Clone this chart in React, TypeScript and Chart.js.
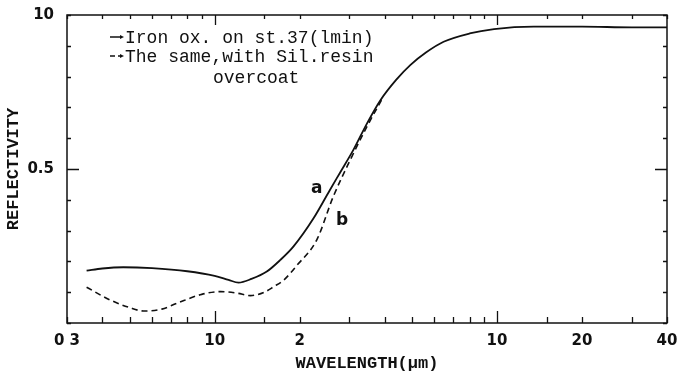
import React, { useEffect, useRef } from 'react';
import { Chart, registerables } from 'chart.js';

Chart.register(...registerables);

// Curve a: iron oxide on st.37 (solid)
const curveAX = [0.352, 0.4, 0.475, 0.6, 0.8, 1.0, 1.12, 1.215, 1.35, 1.53, 1.71, 1.9, 2.24, 2.56, 2.78, 3.1, 3.45, 3.87, 4.4, 4.94, 5.6, 6.47, 8.0, 9.76, 13.5, 20, 30, 40];
const curveAY = [0.170, 0.177, 0.181, 0.178, 0.168, 0.153, 0.140, 0.131, 0.143, 0.167, 0.205, 0.248, 0.340, 0.432, 0.488, 0.562, 0.645, 0.724, 0.790, 0.838, 0.878, 0.913, 0.940, 0.954, 0.962, 0.962, 0.960, 0.960];

// Curve b: same, with Sil. resin overcoat (dashed)
const curveBX = [0.352, 0.426, 0.5, 0.56, 0.65, 0.735, 0.9, 1.05, 1.2, 1.34, 1.5, 1.62, 1.76, 1.96, 2.3, 2.63, 3.02, 3.45, 3.9];
const curveBY = [0.116, 0.075, 0.050, 0.039, 0.045, 0.064, 0.093, 0.102, 0.097, 0.089, 0.100, 0.118, 0.140, 0.188, 0.270, 0.410, 0.529, 0.635, 0.724];

// Axis ticks
const xTickValues = [0.3, 0.4, 0.5, 0.6, 0.7, 0.8, 0.9, 1, 1.5, 2, 3, 4, 5, 6, 7, 8, 9, 10, 15, 20, 30, 40];
const xMajorValues = [1, 10];
const xLabelValues = [0.3, 1, 2, 10, 20, 40];
const xLabelTexts = ['0 3', '10', '2', '10', '20', '40'];

const yTickValues = [0, 0.1, 0.2, 0.3, 0.4, 0.5, 0.6, 0.7, 0.8, 0.9, 1.0];
const yMajorValues = [0.5];
const yLabelValues = [0.5, 1.0];
const yLabelTexts = ['0.5', '10'];

// Curve annotations
const curveLabelTexts = ['a', 'b'];
const curveLabelX = [2.3, 2.83];
const curveLabelY = [0.438, 0.334];

// Legend
const legendTexts = ['Iron ox. on st.37(lmin)', 'The same,with Sil.resin'];
const legendExtra = 'overcoat';

const MONO = '"Liberation Mono", "DejaVu Sans Mono", monospace';
const SANS = '"DejaVu Sans", "Liberation Sans", sans-serif';
const INK = '#111';

const near = (a: number, b: number) => Math.abs(a - b) < 1e-9;

const framePlugin = {
  id: 'frameTicks',
  afterDatasetsDraw(chart: any) {
    const { ctx, chartArea: ca, scales } = chart;
    const xs = scales.x;
    const ys = scales.y;
    ctx.save();
    ctx.strokeStyle = INK;
    ctx.lineWidth = 1.5;
    ctx.strokeRect(ca.left, ca.top, ca.right - ca.left, ca.bottom - ca.top);

    ctx.lineWidth = 1.3;
    ctx.beginPath();
    xTickValues.forEach((v) => {
      const px = Math.round(xs.getPixelForValue(v)) + 0.5;
      const major = xMajorValues.some((m) => near(m, v));
      const lb = major ? 12 : 6;
      const lt = major ? 10 : 4;
      ctx.moveTo(px, ca.bottom);
      ctx.lineTo(px, ca.bottom - lb);
      ctx.moveTo(px, ca.top);
      ctx.lineTo(px, ca.top + lt);
    });
    yTickValues.forEach((v) => {
      const py = Math.round(ys.getPixelForValue(v)) + 0.5;
      const major = yMajorValues.some((m) => near(m, v));
      const l = major ? 12 : 4;
      ctx.moveTo(ca.left, py);
      ctx.lineTo(ca.left + l, py);
      ctx.moveTo(ca.right, py);
      ctx.lineTo(ca.right - l, py);
    });
    ctx.stroke();

    // curve labels a / b
    ctx.fillStyle = INK;
    ctx.font = 'bold 17px ' + SANS;
    ctx.textAlign = 'center';
    ctx.textBaseline = 'middle';
    curveLabelTexts.forEach((t, i) => {
      ctx.fillText(t, xs.getPixelForValue(curveLabelX[i]), ys.getPixelForValue(curveLabelY[i]));
    });

    // legend
    const lx0 = 110;
    const lx1 = 124;
    const rows = [37, 56];
    ctx.lineWidth = 1.5;
    ctx.beginPath();
    ctx.moveTo(lx0, rows[0]);
    ctx.lineTo(lx1 - 3, rows[0]);
    ctx.stroke();
    ctx.beginPath();
    ctx.moveTo(lx0, rows[1]);
    ctx.lineTo(lx0 + 5, rows[1]);
    ctx.moveTo(lx0 + 8, rows[1]);
    ctx.lineTo(lx1 - 3, rows[1]);
    ctx.stroke();
    rows.forEach((ry) => {
      ctx.beginPath();
      ctx.moveTo(lx1, ry);
      ctx.lineTo(lx1 - 4, ry - 2);
      ctx.lineTo(lx1 - 4, ry + 2);
      ctx.closePath();
      ctx.fill();
    });

    ctx.font = '18px ' + MONO;
    ctx.textAlign = 'left';
    ctx.textBaseline = 'alphabetic';
    ctx.fillText(legendTexts[0], 125, 43);
    ctx.fillText(legendTexts[1], 125, 62);
    ctx.fillText(legendExtra, 213, 83);
    ctx.restore();
  },
};

export default function App() {
  const canvasRef = useRef<HTMLCanvasElement | null>(null);

  useEffect(() => {
    const canvas = canvasRef.current;
    if (!canvas) return;
    const chart = new Chart(canvas, {
      type: 'line',
      data: {
        datasets: [
          {
            label: 'a',
            data: curveAX.map((x, i) => ({ x, y: curveAY[i] })),
            borderColor: INK,
            borderWidth: 1.8,
            pointRadius: 0,
            fill: false,
            cubicInterpolationMode: 'monotone',
          },
          {
            label: 'b',
            data: curveBX.map((x, i) => ({ x, y: curveBY[i] })),
            borderColor: INK,
            borderWidth: 1.6,
            borderDash: [6, 4],
            pointRadius: 0,
            fill: false,
            cubicInterpolationMode: 'monotone',
          },
        ],
      },
      options: {
        animation: false,
        responsive: false,
        devicePixelRatio: 1,
        layout: { padding: { top: 15, right: 11, left: 0, bottom: 0 } },
        plugins: {
          legend: { display: false },
          tooltip: { enabled: false },
          title: { display: false },
        },
        scales: {
          x: {
            type: 'logarithmic',
            min: 0.3,
            max: 40,
            afterBuildTicks: (scale: any) => {
              scale.ticks = xTickValues.map((v) => ({ value: v }));
            },
            afterFit: (scale: any) => {
              scale.height = 52;
              scale.paddingLeft = 0;
              scale.paddingRight = 0;
            },
            grid: { display: false },
            border: { display: false },
            ticks: {
              autoSkip: false,
              maxRotation: 0,
              padding: 1,
              color: INK,
              font: { family: SANS, size: 15, weight: 'bold' },
              callback: (value: any) => {
                const i = xLabelValues.findIndex((v) => near(v, Number(value)));
                return i >= 0 ? xLabelTexts[i] : '';
              },
            },
            title: {
              display: true,
              text: 'WAVELENGTH(μm)',
              color: INK,
              font: { family: MONO, size: 17, weight: 'bold' },
              padding: { top: 0, bottom: 1 },
            },
          },
          y: {
            type: 'linear',
            min: 0,
            max: 1,
            afterBuildTicks: (scale: any) => {
              scale.ticks = yTickValues.map((v) => ({ value: v }));
            },
            afterFit: (scale: any) => {
              scale.width = 67;
            },
            grid: { display: false },
            border: { display: false },
            ticks: {
              autoSkip: false,
              padding: 5,
              color: INK,
              font: { family: SANS, size: 15, weight: 'bold' },
              callback: (value: any) => {
                const i = yLabelValues.findIndex((v) => near(v, Number(value)));
                return i >= 0 ? yLabelTexts[i] : '';
              },
            },
            title: {
              display: true,
              text: 'REFLECTIVITY',
              color: INK,
              font: { family: MONO, size: 17, weight: 'bold' },
              padding: { top: 4, bottom: 0 },
            },
          },
        },
      },
      plugins: [framePlugin],
    } as any);
    return () => chart.destroy();
  }, []);

  return (
    <div style={{ position: 'absolute', left: 0, top: 0, width: 678, height: 375, background: '#fff' }}>
      <canvas ref={canvasRef} width={678} height={375} style={{ display: 'block' }} />
    </div>
  );
}
